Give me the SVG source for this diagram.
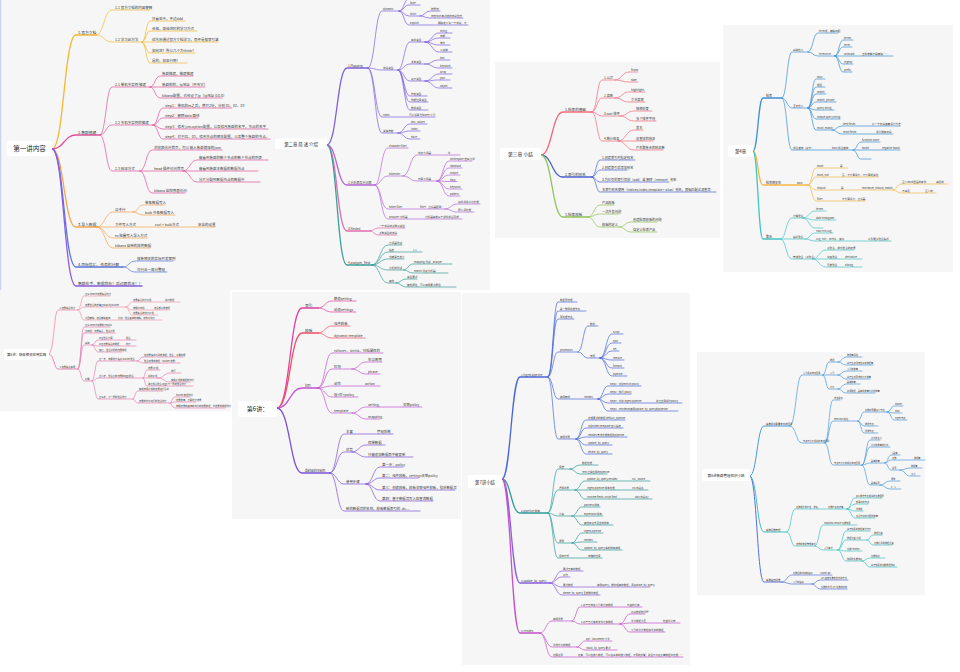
<svg xmlns="http://www.w3.org/2000/svg" width="960" height="672" viewBox="0 0 960 672">
<style>
text{font-family:"Noto Sans CJK SC","Noto Sans",sans-serif;fill:#383838}
.k{fill:none;stroke-linecap:round;stroke-linejoin:round;stroke-width:.7}
.k .m{stroke-width:1.3}
.a{font-size:3.5px}.a2{font-size:3.8px}
.b{font-size:2.3px}
.c3{font-size:2.6px}.c3l{font-size:3px}
.d{font-size:3.2px}.dl{font-size:3.6px}
.e{font-size:2.6px}.el{font-size:3px}
.f{font-size:3.4px}.fl{font-size:3.8px}
.g{font-size:2.5px}.gl{font-size:2.8px}
.h{font-size:2.2px}.hl{font-size:2.4px}
.root{fill:#fff}
.rt{text-anchor:middle;fill:#222}
.bg{fill:#f6f6f6}
</style>
<rect width="960" height="672" fill="#fff"/>
<g id="backgrounds">
<rect class="bg" x="0" y="0" width="490" height="290"/>
<rect x="0" y="0" width="1.2" height="290" fill="#c9d3ea"/>
<rect class="bg" x="0" y="290" width="230" height="121"/>
<rect class="bg" x="232" y="292" width="229" height="227"/>
<rect class="bg" x="495" y="62" width="225" height="176"/>
<rect class="bg" x="723" y="25" width="230" height="247"/>
<rect class="bg" x="462" y="293" width="228" height="372"/>
<rect class="bg" x="697" y="352" width="228" height="243"/>
</g>

<g id="connectors">
<!-- Panel 1 -->
<g class="k" stroke="#f5b731">
<path class="m" d="M52 149 C64 149 64 35 76 35 H96"/>
<path d="M96 35 C104 35 104 10 112 10 H150"/>
<path d="M96 35 C104 35 104 42 112 42 H142"/>
<path d="M142 42 C146 42 146 21 150 21 H185"/>
<path d="M142 42 C146 42 146 31 150 31 H197"/>
<path d="M142 42 H218"/>
<path d="M142 42 C146 42 146 53 150 53 H195"/>
<path d="M142 42 C146 42 146 63 150 63 H187"/>
</g>
<g class="k" stroke="#e2509c">
<path class="m" d="M52 149 C64 149 64 135 76 135 H100"/>
<path d="M100 135 C106 135 106 87 112 87 H150"/>
<path d="M150 87 C155 87 155 76 160 76 H193"/>
<path d="M150 87 H205"/>
<path d="M150 87 C155 87 155 98 160 98 H222"/>
<path d="M100 135 C106 135 106 125 112 125 H153"/>
<path d="M153 125 C158 125 158 108 163 108 H232"/>
<path d="M153 125 C158 125 158 118 163 118 H198"/>
<path d="M153 125 C158 125 158 129 163 129 H268"/>
<path d="M153 125 C158 125 158 139 163 139 H270"/>
<path d="M100 135 C106 135 106 171 112 171 H140"/>
<path d="M140 171 C146 171 146 150 152 150 H222"/>
<path d="M140 171 H183"/>
<path d="M183 171 C190 171 190 160 197 160 H268"/>
<path d="M183 171 H258"/>
<path d="M183 171 C190 171 190 182 197 182 H260"/>
<path d="M140 171 C146 171 146 193 152 193 H185"/>
</g>
<g class="k" stroke="#f7a24b">
<path class="m" d="M52 149 C64 149 64 227 76 227 H97"/>
<path d="M97 227 C105 227 105 212 113 212 H133"/>
<path d="M133 212 C138 212 138 205 143 205 H165"/>
<path d="M133 212 C138 212 138 215 143 215 H175"/>
<path d="M97 227 H215"/>
<path d="M97 227 C105 227 105 238 113 238 H147"/>
<path d="M97 227 C105 227 105 248 113 248 H150"/>
</g>
<g class="k" stroke="#5876dc">
<path class="m" d="M52 149 C64 149 64 267 76 267 H123"/>
<path d="M123 267 C129 267 129 261 135 261 H173"/>
<path d="M123 267 C129 267 129 272 135 272 H167"/>
</g>
<g class="k" stroke="#8b5ce4">
<path class="m" d="M52 149 C64 149 64 286 76 286 H142"/>
</g>

<!-- Panel 2 -->
<g class="k" stroke="#f29aae" stroke-width=".5">
<path class="m" style="stroke-width:.9" d="M49 354 C54 354 54 310 58 310 H78"/>
<path d="M78 310 C81 310 81 296 84 296 H110"/>
<path d="M78 310 C81 310 81 307 84 307 H126"/>
<path d="M126 307 C129 307 129 302 132 302 H180"/>
<path d="M126 307 C129 307 129 310 132 310 H168"/>
<path d="M126 307 C129 307 129 315 132 315 H158"/>
<path d="M78 310 C81 310 81 320 84 320 H162"/>
</g>
<g class="k" stroke="#e57fb2">
<path class="m" style="stroke-width:.9" d="M49 354 C54 354 54 369 58 369 H78"/>
<path d="M78 369 C81 369 81 327 84 327 H110"/>
<path d="M78 369 C81 369 81 333 84 333 H115"/>
<path d="M78 369 C81 369 81 345 84 345 H92"/>
<path d="M92 345 C95 345 95 340 98 340 H136"/>
<path d="M92 345 C95 345 95 346 98 346 H136"/>
<path d="M92 345 C95 345 95 352 98 352 H122"/>
<path d="M78 369 C81 369 81 381 84 381 H92"/>
<path d="M92 381 C95 381 95 361 98 361 H137"/>
<path d="M137 361 C140 361 140 357 143 357 H183"/>
<path d="M137 361 C140 361 140 363 143 363 H180"/>
<path d="M92 381 C95 381 95 378 98 378 H143"/>
<path d="M143 378 C145 378 145 370 147 370 H160"/>
<path d="M143 378 H158"/>
<path d="M158 378 C164 378 164 373 170 373 H181"/>
<path d="M158 378 C164 378 164 382 170 382 H190"/>
<path d="M143 378 C145 378 145 386 147 386 H193"/>
<path d="M92 381 C95 381 95 399 98 399 H133"/>
<path d="M133 399 C135 399 135 391 138 391 H163"/>
<path d="M133 399 C135 399 135 403 138 403 H170"/>
<path d="M170 403 C172 403 172 397 175 397 H190"/>
<path d="M170 403 C172 403 172 402 175 402 H196"/>
<path d="M170 403 C172 403 172 408 175 408 H225"/>
</g>

<!-- Panel 3 -->
<g class="k" stroke="#7d5fe0">
<path class="m" d="M327 145 C337 145 337 68 347 68 H368"/>
<path d="M368 68 C375 68 375 11 382 11 H399"/>
<path d="M399 11 C404 11 404 -1 409 -1 H418"/>
<path d="M399 11 C404 11 404 5 409 5 H420"/>
<path d="M399 11 C404 11 404 16 409 16 H420"/>
<path d="M420 16 C425 16 425 11 430 11 H440"/>
<path d="M420 16 C425 16 425 18 430 18 H463"/>
<path d="M399 11 C404 11 404 25 409 25 H468"/>
<path d="M368 68 C375 68 375 70 382 70 H398"/>
<path d="M398 70 C404 70 404 42 410 42 H425"/>
<path d="M425 42 C432 42 432 33 439 33 H452"/>
<path d="M425 42 C432 42 432 38 439 38 H450"/>
<path d="M425 42 C432 42 432 45 439 45 H450"/>
<path d="M425 42 C432 42 432 52 439 52 H452"/>
<path d="M398 70 C404 70 404 64 410 64 H425"/>
<path d="M425 64 C432 64 432 60 439 60 H450"/>
<path d="M425 64 C432 64 432 68 439 68 H452"/>
<path d="M398 70 C404 70 404 81 410 81 H425"/>
<path d="M425 81 C432 81 432 74 439 74 H452"/>
<path d="M425 81 C432 81 432 80 439 80 H450"/>
<path d="M425 81 C432 81 432 88 439 88 H452"/>
<path d="M398 70 C404 70 404 96 410 96 H427"/>
<path d="M398 70 C404 70 404 102 410 102 H428"/>
<path d="M398 70 C404 70 404 110 410 110 H428"/>
<path d="M368 68 C375 68 375 117 382 117 H435"/>
<path d="M368 68 C375 68 375 133 382 133 H398"/>
<path d="M398 133 C404 133 404 124 410 124 H427"/>
<path d="M398 133 C404 133 404 131 410 131 H420"/>
<path d="M398 133 C404 133 404 139 410 139 H420"/>
</g>
<g class="k" stroke="#b865d8">
<path class="m" d="M327 145 C337 145 337 185 347 185 H375"/>
<path d="M375 185 C381 185 381 148 388 148 H408"/>
<path d="M375 185 C381 185 381 176 388 176 H403"/>
<path d="M403 176 C410 176 410 155 417 155 H460"/>
<path d="M403 176 C410 176 410 181 417 181 H437"/>
<path d="M437 181 C443 181 443 161 449 161 H472"/>
<path d="M437 181 C443 181 443 168 449 168 H462"/>
<path d="M437 181 C443 181 443 175 449 175 H460"/>
<path d="M437 181 C443 181 443 181.5 449 181.5 H457"/>
<path d="M437 181 C443 181 443 189 449 189 H462"/>
<path d="M437 181 C443 181 443 196 449 196 H460"/>
<path d="M375 185 C381 185 381 209 388 209 H445"/>
<path d="M445 209 C451 209 451 204 457 204 H480"/>
<path d="M445 209 C451 209 451 212 457 212 H474"/>
<path d="M375 185 C381 185 381 219 388 219 H462"/>
</g>
<g class="k" stroke="#e26bae">
<path class="m" d="M327 145 C337 145 337 231 347 231 H370"/>
<path d="M370 231 C374 231 374 228 378 228 H405"/>
<path d="M370 231 C374 231 374 235 378 235 H397"/>
</g>
<g class="k" stroke="#3a9e9a">
<path class="m" d="M327 145 C337 145 337 265 347 265 H372"/>
<path d="M372 265 C380 265 380 245 388 245 H402"/>
<path d="M372 265 C380 265 380 252 388 252 H422"/>
<path d="M372 265 C380 265 380 259 388 259 H404"/>
<path d="M372 265 C380 265 380 270 388 270 H404"/>
<path d="M404 270 C408 270 408 264 413 264 H452"/>
<path d="M404 270 C408 270 408 273 413 273 H448"/>
<path d="M372 265 C380 265 380 283 388 283 H396"/>
<path d="M396 283 C401 283 401 279 406 279 H417"/>
<path d="M396 283 C401 283 401 287 406 287 H456"/>
</g>

<!-- Panel 4 -->
<g class="k" stroke="#f4697b">
<path class="m" d="M541 155 C552 155 552 112 563 112 H592"/>
<path d="M592 112 C597 112 597 80 602 80 H615"/>
<path d="M615 80 C622 80 622 72 629 72 H638"/>
<path d="M615 80 C622 80 622 82 629 82 H638"/>
<path d="M592 112 C597 112 597 98 602 98 H615"/>
<path d="M615 98 C622 98 622 92 629 92 H645"/>
<path d="M615 98 C622 98 622 102 629 102 H645"/>
<path d="M592 112 C597 112 597 116 602 116 H620"/>
<path d="M620 116 C627 116 627 111 634 111 H652"/>
<path d="M620 116 C627 116 627 121 634 121 H656"/>
<path d="M592 112 C597 112 597 141 602 141 H618"/>
<path d="M618 141 C626 141 626 130 634 130 H643"/>
<path d="M618 141 H653"/>
<path d="M618 141 C626 141 626 150 634 150 H663"/>
</g>
<g class="k" stroke="#4b62d2">
<path class="m" d="M541 155 C552 155 552 177 563 177 H592"/>
<path d="M592 177 C596 177 596 160 600 160 H635"/>
<path d="M592 177 C596 177 596 170 600 170 H627"/>
<path d="M592 177 C596 177 596 182 600 182 H669"/>
<path d="M592 177 C596 177 596 192 600 192 H716"/>
</g>
<g class="k" stroke="#8dc454">
<path class="m" d="M541 155 C552 155 552 217 563 217 H588"/>
<path d="M588 217 C594 217 594 205 600 205 H614"/>
<path d="M588 217 C594 217 594 214 600 214 H619"/>
<path d="M588 217 C594 217 594 227 600 227 H619"/>
<path d="M619 227 C625 227 625 222 631 222 H657"/>
<path d="M619 227 C625 227 625 232 631 232 H657"/>
</g>

<!-- Panel 5 -->
<g class="k" stroke="#3b8fd4">
<path class="m" d="M753 151 C758 151 758 98 763 98 H782"/>
<path d="M782 98 C787 98 787 52 792 52 H808"/>
<path d="M808 52 C813 52 813 33 818 33 H838"/>
<path d="M808 52 C813 52 813 56 818 56 H835"/>
<path d="M835 56 C839 56 839 40 843 40 H853"/>
<path d="M835 56 C839 56 839 47 843 47 H852"/>
<path d="M835 56 H893"/>
<path d="M835 56 C839 56 839 64 843 64 H853"/>
<path d="M835 56 C839 56 839 72 843 72 H852"/>
<path d="M782 98 C787 98 787 108 792 108 H808"/>
<path d="M808 108 C812 108 812 79 816 79 H825"/>
<path d="M808 108 C812 108 812 87 816 87 H825"/>
<path d="M808 108 C812 108 812 94 816 94 H826"/>
<path d="M808 108 C812 108 812 102 816 102 H836"/>
<path d="M808 108 C812 108 812 110 816 110 H834"/>
<path d="M808 108 C812 108 812 119 816 119 H840"/>
<path d="M808 108 C812 108 812 130 816 130 H832"/>
<path d="M832 130 C837 130 837 126 842 126 H900"/>
<path d="M832 130 C837 130 837 134 842 134 H893"/>
<path d="M782 98 C787 98 787 150 792 150 H853"/>
<path d="M853 150 C857 150 857 142 861 142 H880"/>
<path d="M853 150 H900"/>
<path d="M853 150 C857 150 857 159 861 159 H871"/>
</g>
<g class="k" stroke="#f4b844">
<path class="m" d="M753 151 C758 151 758 185 763 185 H808"/>
<path d="M808 185 C812 185 812 168 816 168 H848"/>
<path d="M808 185 C812 185 812 177 816 177 H878"/>
<path d="M808 185 C812 185 812 190 816 190 H893"/>
<path d="M893 190 C897 190 897 184 901 184 H948"/>
<path d="M893 190 C897 190 897 193 901 193 H936"/>
<path d="M808 185 C812 185 812 201 816 201 H865"/>
</g>
<g class="k" stroke="#45c4c2">
<path class="m" d="M753 151 C758 151 758 239 763 239 H781"/>
<path d="M781 239 C786 239 786 218 792 218 H803"/>
<path d="M803 218 C809 218 809 211 815 211 H826"/>
<path d="M803 218 C809 218 809 220 815 220 H836"/>
<path d="M803 218 C809 218 809 228 815 228 H823"/>
<path d="M781 239 H805"/>
<path d="M805 239 C810 239 810 233 815 233 H833"/>
<path d="M805 239 C810 239 810 241 815 241 H891"/>
<path d="M781 239 C786 239 786 259 792 259 H813"/>
<path d="M813 259 C819 259 819 250 826 250 H854"/>
<path d="M813 259 H862"/>
<path d="M813 259 C819 259 819 267 826 267 H862"/>
</g>

<!-- Panel 6 -->
<g class="k" stroke="#e2419f">
<path class="m" d="M277 408 C290 408 290 308 302 308 H318"/>
<path d="M318 308 C325 308 325 301 332 301 H356"/>
<path d="M318 308 C325 308 325 312 332 312 H356"/>
</g>
<g class="k" stroke="#f04d62">
<path class="m" d="M277 408 C290 408 290 333 302 333 H318"/>
<path d="M318 333 C325 333 325 326 332 326 H350"/>
<path d="M318 333 C325 333 325 338 332 338 H365"/>
</g>
<g class="k" stroke="#c452d6">
<path class="m" d="M277 408 C290 408 290 388 302 388 H318"/>
<path d="M318 388 C325 388 325 353 332 353 H383"/>
<path d="M318 388 C325 388 325 369 332 369 H352"/>
<path d="M352 369 C359 369 359 362 366 362 H382"/>
<path d="M352 369 C359 369 359 374 366 374 H380"/>
<path d="M318 388 C325 388 325 386 332 386 H380"/>
<path d="M318 388 C325 388 325 397 332 397 H358"/>
<path d="M318 388 C325 388 325 413 332 413 H352"/>
<path d="M352 413 C359 413 359 407 366 407 H422"/>
<path d="M352 413 C359 413 359 419 366 419 H380"/>
</g>
<g class="k" stroke="#7b52d8">
<path class="m" d="M277 408 C290 408 290 473 302 473 H330"/>
<path d="M330 473 C337 473 337 434 344 434 H393"/>
<path d="M330 473 C337 473 337 452 344 452 H352"/>
<path d="M352 452 C359 452 359 445 366 445 H385"/>
<path d="M352 452 C359 452 359 457 366 457 H413"/>
<path d="M330 473 C337 473 337 484 344 484 H366"/>
<path d="M366 484 C373 484 373 467 380 467 H403"/>
<path d="M366 484 C373 484 373 478 380 478 H418"/>
<path d="M366 484 C373 484 373 490 380 490 H455"/>
<path d="M366 484 C373 484 373 501 380 501 H433"/>
<path d="M330 473 C337 473 337 511 344 511 H420"/>
</g>

<!-- Panel 7 -->
<g class="k" stroke="#4a67d8">
<path class="m" d="M502 479 C511 479 511 377 520 377 H548"/>
<path d="M548 377 C553 377 553 302 558 302 H577"/>
<path d="M548 377 C553 377 553 311 558 311 H586"/>
<path d="M548 377 C553 377 553 319 558 319 H574"/>
<path d="M548 377 C553 377 553 352 558 352 H578"/>
<path d="M578 352 C583 352 583 326 588 326 H598"/>
<path d="M578 352 C583 352 583 358 588 358 H600"/>
<path d="M600 358 C606 358 606 334 612 334 H623"/>
<path d="M600 358 C606 358 606 343 612 343 H621"/>
<path d="M600 358 C606 358 606 351 612 351 H619"/>
<path d="M600 358 C606 358 606 360 612 360 H624"/>
<path d="M600 358 C606 358 606 368 612 368 H624"/>
<path d="M600 358 C606 358 606 376 612 376 H627"/>
<path d="M548 377 C553 377 553 399 558 399 H598"/>
<path d="M598 399 C603 399 603 386 608 386 H641"/>
<path d="M598 399 C603 399 603 394 608 394 H631"/>
<path d="M598 399 C603 399 603 403 608 403 H682"/>
<path d="M598 399 C603 399 603 411 608 411 H678"/>
<path d="M548 377 C553 377 553 439 558 439 H576"/>
<path d="M576 439 C581 439 581 420 586 420 H625"/>
<path d="M576 439 C581 439 581 428 586 428 H623"/>
<path d="M576 439 C581 439 581 437 586 437 H627"/>
<path d="M576 439 C581 439 581 445 586 445 H612"/>
<path d="M576 439 C581 439 581 454 586 454 H612"/>
</g>
<g class="k" stroke="#2e9c9c">
<path class="m" d="M502 479 C511 479 511 513 520 513 H548"/>
<path d="M548 513 C553 513 553 469 558 469 H570"/>
<path d="M570 469 C575 469 575 465 580 465 H598"/>
<path d="M570 469 C575 469 575 474 580 474 H607"/>
<path d="M548 513 C553 513 553 490 558 490 H575"/>
<path d="M575 490 C580 490 580 481 585 481 H650"/>
<path d="M575 490 H648"/>
<path d="M575 490 C580 490 580 499 585 499 H652"/>
<path d="M548 513 C553 513 553 516 558 516 H572"/>
<path d="M572 516 C577 516 577 507 582 507 H600"/>
<path d="M572 516 H603"/>
<path d="M572 516 C577 516 577 525 582 525 H613"/>
<path d="M548 513 C553 513 553 543 558 543 H572"/>
<path d="M572 543 C577 543 577 533 582 533 H603"/>
<path d="M572 543 C577 543 577 542 582 542 H597"/>
<path d="M572 543 C577 543 577 550 582 550 H622"/>
<path d="M548 513 C553 513 553 558 558 558 H602"/>
</g>
<g class="k" stroke="#8a5ee2">
<path class="m" d="M502 479 C511 479 511 583 520 583 H550"/>
<path d="M550 583 C556 583 556 571 562 571 H583"/>
<path d="M550 583 C556 583 556 577 562 577 H570"/>
<path d="M550 583 C556 583 556 587 562 587 H650"/>
<path d="M550 583 C556 583 556 595 562 595 H600"/>
</g>
<g class="k" stroke="#c452cc">
<path class="m" d="M502 479 C511 479 511 633 520 633 H540"/>
<path d="M540 633 C546 633 546 621 552 621 H572"/>
<path d="M572 621 C576 621 576 607 580 607 H642"/>
<path d="M572 621 C576 621 576 624 580 624 H620"/>
<path d="M620 624 C625 624 625 614 630 614 H645"/>
<path d="M620 624 C625 624 625 623 630 623 H680"/>
<path d="M620 624 C625 624 625 632 630 632 H665"/>
<path d="M540 633 C546 633 546 647 552 647 H577"/>
<path d="M577 647 C581 647 581 641 585 641 H612"/>
<path d="M577 647 C581 647 581 650 585 650 H617"/>
<path d="M540 633 C546 633 546 657 552 657 H683"/>
</g>

<!-- Panel 8 -->
<g class="k" stroke="#4a9ad8" stroke-width=".55">
<path class="m" style="stroke-width:1" d="M750 476 C757 476 757 426 764 426 H790"/>
<path d="M790 426 C796 426 796 375 802 375 H823"/>
<path d="M823 375 C826 375 826 362 829 362 H838"/>
<path d="M838 362 C842 362 842 357 846 357 H862"/>
<path d="M838 362 C842 362 842 365 846 365 H873"/>
<path d="M823 375 H838"/>
<path d="M838 375 C842 375 842 371 846 371 H862"/>
<path d="M838 375 C842 375 842 379 846 379 H870"/>
<path d="M823 375 C826 375 826 389 829 389 H838"/>
<path d="M838 389 C842 389 842 384 846 384 H860"/>
<path d="M838 389 C842 389 842 393 846 393 H875"/>
<path d="M790 426 C796 426 796 443 802 443 H825"/>
<path d="M825 443 C829 443 829 400 833 400 H840"/>
<path d="M825 443 C829 443 829 421 833 421 H858"/>
<path d="M858 421 C861 421 861 412 864 412 H887"/>
<path d="M887 412 C891 412 891 406 894 406 H903"/>
<path d="M887 412 C891 412 891 413 894 413 H902"/>
<path d="M887 412 C891 412 891 420 894 420 H907"/>
<path d="M858 421 C861 421 861 426 864 426 H878"/>
<path d="M858 421 C861 421 861 433 864 433 H878"/>
<path d="M825 443 C829 443 829 465 833 465 H862"/>
<path d="M862 465 C866 465 866 440 870 440 H880"/>
<path d="M862 465 C866 465 866 447 870 447 H890"/>
<path d="M862 465 C866 465 866 463 870 463 H885"/>
<path d="M885 463 C888 463 888 455 891 455 H900"/>
<path d="M885 463 C888 463 888 460 891 460 H925"/>
<path d="M885 463 C888 463 888 470 891 470 H900"/>
<path d="M900 470 C905 470 905 468 910 468 H922"/>
<path d="M900 470 C905 470 905 476 910 476 H920"/>
<path d="M862 465 C866 465 866 485 870 485 H880"/>
<path d="M880 485 C885 485 885 481 890 481 H900"/>
<path d="M880 485 C885 485 885 489 890 489 H901"/>
</g>
<g class="k" stroke="#3fc3c6" stroke-width=".55">
<path class="m" style="stroke-width:1" d="M750 476 C757 476 757 532 764 532 H787"/>
<path d="M787 532 C791 532 791 509 795 509 H847"/>
<path d="M847 509 C851 509 851 498 855 498 H882"/>
<path d="M847 509 C851 509 851 504 855 504 H868"/>
<path d="M847 509 C851 509 851 511 855 511 H863"/>
<path d="M847 509 C851 509 851 518 855 518 H875"/>
<path d="M787 532 C791 532 791 546 795 546 H815"/>
<path d="M815 546 C819 546 819 525 823 525 H857"/>
<path d="M815 546 C819 546 819 550 823 550 H838"/>
<path d="M838 550 C842 550 842 531 846 531 H870"/>
<path d="M838 550 C842 550 842 540 846 540 H867"/>
<path d="M867 540 C870 540 870 535 873 535 H882"/>
<path d="M867 540 C870 540 870 545 873 545 H892"/>
<path d="M838 550 C842 550 842 551 846 551 H862"/>
<path d="M838 550 C842 550 842 561 846 561 H862"/>
<path d="M862 561 C866 561 866 558 870 558 H885"/>
<path d="M862 561 C866 561 866 567 870 567 H897"/>
</g>
<g class="k" stroke="#5b70d8" stroke-width=".55">
<path class="m" style="stroke-width:1" d="M750 476 C757 476 757 582 764 582 H782"/>
<path d="M782 582 C787 582 787 575 792 575 H832"/>
<path d="M782 582 C787 582 787 584 792 584 H812"/>
<path d="M812 584 C816 584 816 580 820 580 H848"/>
<path d="M812 584 C816 584 816 589 820 589 H847"/>
</g>
</g>

<!-- ============ NODES ============ -->
<g id="panel1">
<g id="p1-root"><rect class="root" x="7" y="141" width="45" height="15" rx="2"/><text class="rt" x="29.5" y="151.3" font-size="6.5">第一讲内容</text></g>
<g id="p1-b1" class="a">
<text class="a2" x="78" y="33.6">1.官方文档</text>
<text x="115" y="8.6">1.1 官方文档的内容梗概</text>
<text x="115" y="40.6">1.2 学习此方法</text>
<text x="152" y="19.6">只看英中，不过ddd</text>
<text x="152" y="29.6">合格，高级进阶的学习方式</text>
<text x="152" y="40.6">优先将通过官方文档学习，而不是搜索引擎</text>
<text x="152" y="51.6">如何进？所以几个为think？</text>
<text x="152" y="61.6">是的，如果行啊！</text>
</g>
<g id="p1-b2" class="a">
<text class="a2" x="78" y="133.6">2.集群搭建</text>
<text x="115" y="85.6">2.1 单机多实例 搭建</text>
<text x="162" y="74.6">集群搭建，搭建搭建</text>
<text x="162" y="85.6">集群的的，ip地址（不改它）</text>
<text x="162" y="96.6">kibana配置，已经设了ip（ip地址 0.0.0）</text>
<text x="115" y="123.6">2.2 多机多实例的搭建</text>
<text x="165" y="106.6">step1：单机的es之后，拷贝2份，分别 01、02、03</text>
<text x="165" y="116.6">step2：删除data 路径</text>
<text x="165" y="127.6">step3：修改 jvm.option配置，以及修改集群的名字，节点的名字</text>
<text x="165" y="137.6">step4：对于02、03，修改节点的相关配置，以及整个集群的节点。</text>
<text x="115" y="169.6">2.3 验证方式</text>
<text x="154" y="148.6">浏览器访问首页，可以 输入集群健康的json</text>
<text x="154" y="169.6">head 插件访问首页</text>
<text x="199" y="158.6">能看到集群的数个节点的数个节点的列表</text>
<text x="199" y="169.6">能看到集群主数据的数据节点</text>
<text x="199" y="180.6">分片分配到数据节点的数据中</text>
<text x="154" y="191.6">kibana 监控界面访问</text>
</g>
<g id="p1-b3" class="a">
<text class="a2" x="78" y="225.6">3.导入数据</text>
<text x="115" y="210.6">命令行</text>
<text x="145" y="203.6">单条数据写入</text>
<text x="145" y="213.6">bulk 多条数据写入</text>
<text x="115" y="225.6">文件写入方式</text>
<text x="155" y="225.6">curl + bulk方式</text>
<text x="198" y="225.6">安全的设置</text>
<text x="115" y="236.6">es 批量写入导入方式</text>
<text x="115" y="246.6">kibana 自带的样例数据</text>
</g>
<g id="p1-b4" class="a">
<text class="a2" x="78" y="265.6">4.目标信汇、任务的分解</text>
<text x="137" y="259.6">搜集相关的实际开发案例</text>
<text x="137" y="270.6">对行业一部分整理</text>
</g>
<g id="p1-b5" class="a"><text class="a2" x="78" y="284.6">集群在手，数据我有！后边跟我走！！</text></g>
</g>

<g id="panel2" class="b">
<g id="p2-root"><rect class="root" x="4" y="349" width="45" height="11" rx="1.5"/><text class="rt" x="26.5" y="355.6" font-size="3.4">第5讲：结果相关应用实践</text></g>
<text x="59.5" y="309.2">1.结果集合统计</text>
<text x="85" y="295.2">第三 search结果集合统计</text>
<text x="85" y="306.2">结果聚合的步骤 group by bucket</text>
<text x="133" y="301.2">结果集合统计分组</text><text x="165" y="301.2">总计数据</text>
<text x="133" y="309.2">按照xx字段</text><text x="154" y="309.2">结合部分的数据</text>
<text x="133" y="314.2">结果集合的统计分组</text>
<text x="85" y="319.2">范围精确，结合精确查询</text><text x="118" y="319.2">比如：聚合查询的精确，结构化统计</text>
<text x="59.5" y="368.2">2.结果集合使用</text>
<text x="85" y="326.2">第三 search结果的 results</text>
<text x="85" y="332.2">第四组：结果集合，聚合分析</text>
<text x="85" y="344.2">基础</text>
<text x="99" y="339.2">avg 聚合计算</text><text x="126" y="339.2">聚合</text>
<text x="99" y="345.2">avg 结果集合的数据</text><text x="126" y="345.2">统计</text>
<text x="99" y="351.2">最后，聚合分析的结果数据</text>
<text x="85" y="380.2">分桶</text>
<text x="99" y="360.2">第一步，按照统计指标 bucket 聚合</text>
<text x="144" y="356.2">在结果集中得到的数据，聚合，分桶处理</text>
<text x="144" y="362.2">聚合结果的数据（bucket 结果）</text>
<text x="99" y="377.2">第二步，聚合后的结果的aggs聚合</text>
<text x="148" y="369.2">结果(分组)</text>
<text x="148" y="377.2">总结分组</text>
<text x="171" y="372.2">排行</text>
<text x="171" y="381.2">实现分组的数据的统计</text>
<text x="148" y="385.2">通过组合聚合 aggs 下一层的聚合统计</text>
<text x="99" y="398.2">第三步，下一层的聚合统计</text>
<text x="139" y="390.2">实现按照分组的结果进行合并</text>
<text x="139" y="402.2">结果的统计进行的聚合统计</text>
<text x="176" y="396.2">bucket 数据统计</text>
<text x="176" y="401.2">结果数量，计算统计结果</text>
<text x="176" y="407.2">按照结果的查询的统计的结果数据，与结果的数据统计</text>
</g>

<g id="panel3" class="c3">
<g id="p3-root"><rect class="root" x="275" y="138.5" width="52" height="10.5" rx="1.5"/><text class="rt" x="301" y="145.6" font-size="4.4">第二章 简 述 介绍</text></g>
<text class="c3l" x="348" y="66.8">1.Mapping</text>
<text x="383" y="10.2">dynamic</text>
<text x="410" y="4.2">false</text>
<text x="410" y="15.2">strict</text>
<text x="431" y="10.2">抛异常</text>
<text x="431" y="17.2">日志中会有新增的字段信息</text>
<text x="410" y="24.2">Explicit</text><text x="438" y="24.2">明确定义每一个字段，不…</text>
<text x="383" y="69.2">字段类型</text>
<text x="411" y="41.2">简单类型</text>
<text x="440" y="32.2">string</text><text x="440" y="37.2">日期</text><text x="440" y="44.2">布尔</text><text x="440" y="51.2">二进制</text>
<text x="411" y="63.2">文本类型</text>
<text x="440" y="59.2">text</text><text x="440" y="67.2">keyword</text>
<text x="411" y="80.2">复杂类型</text>
<text x="440" y="73.2">array</text><text x="440" y="79.2">json</text><text x="440" y="87.2">object</text>
<text x="411" y="95.2">特定类型</text>
<text x="411" y="101.2">地理位置类型</text>
<text x="411" y="109.2">数组类型</text>
<text x="383" y="116.2">index</text><text x="409" y="116.2">可以设置为false不索引</text>
<text x="383" y="132.2">关键参数</text>
<text x="411" y="123.2">doc_values</text><text x="411" y="130.2">index</text><text x="411" y="138.2">store</text>
<text class="c3l" x="348" y="183.8">2.分析器及分词器</text>
<text x="389" y="147.2">character filter</text>
<text x="389" y="175.2">tokenizer</text>
<text x="418" y="154.2">中文分词器</text><text x="448" y="154.2">ik</text>
<text x="418" y="180.2">内置分词器</text>
<text x="450" y="160.2">whitespace 空白分词</text>
<text x="450" y="167.2">standard</text><text x="450" y="174.2">simple</text><text x="450" y="180.7">stop</text><text x="450" y="188.2">keyword</text><text x="450" y="195.2">pattern</text>
<text x="389" y="208.2">token filter</text><text x="420" y="208.2">filter：过滤器配置：</text>
<text x="458" y="203.2">将单词规范化处理</text>
<text x="458" y="211.2">同义词处理</text>
<text x="389" y="218.2">analyzer 分析器</text><text x="425" y="218.2">分析器由前三个组件组合而成</text>
<text class="c3l" x="348" y="229.8">3.Nested</text>
<text x="379" y="227.2">一个字段的多种子类型</text>
<text x="379" y="234.2">多种类型的字段</text>
<text class="c3l" x="348" y="263.8">4.analyzer_field</text>
<text x="389" y="244.2">分词器测试</text>
<text x="389" y="251.2">指定</text><text x="413" y="251.2">1.1</text>
<text x="389" y="258.2">也就是自定义</text>
<text x="389" y="269.2">分析的测试</text>
<text x="414" y="263.2">mapping 测试 _analyze</text>
<text x="414" y="272.2">search 测试分析器</text>
<text x="389" y="282.2">其他</text>
<text x="407" y="278.2">类型更新</text>
<text x="407" y="286.2">其他属性，可以使用更新属性</text>
</g>

<g id="panel4" class="d">
<g id="p4-root"><rect class="root" x="500" y="148" width="41" height="12" rx="1.5"/><text class="rt" x="520.5" y="156" font-size="4.8">第三章 小结</text></g>
<text class="dl" x="565" y="110.6">1.检索的基础</text>
<text x="604" y="78.6">1.公式</text><text x="631" y="70.6">from</text><text x="631" y="80.6">size</text>
<text x="604" y="96.6">2.高亮</text><text x="631" y="90.6">highlight</text><text x="631" y="100.6">文本高亮</text>
<text x="604" y="114.6">3.sort 排序</text><text x="636" y="109.6">按相关度</text><text x="636" y="119.6">多个排序字段</text>
<text x="604" y="139.6">4.统计结果</text><text x="636" y="128.6">基本</text><text x="636" y="139.6">总查找的结果</text><text x="636" y="148.6">产生聚集合的结果数</text>
<text class="dl" x="565" y="175.6">2.索引的别名</text>
<text x="602" y="158.6">1.创建索引时指定别名</text>
<text x="602" y="168.6">2.创建索引后添加别名</text>
<text x="602" y="180.6">3.为已有的索引添加（add）或 删除（remove）别名</text>
<text x="602" y="190.6">多索引别名使用（indices/index/template + alias）别名，根据匹配过滤查询</text>
<text class="dl" x="565" y="215.6">3.检索模板</text>
<text x="602" y="203.6">产品模板</text>
<text x="602" y="212.6">一次并发问题</text>
<text x="602" y="225.6">模板的定义</text>
<text x="633" y="220.6">创建检索模板的问题</text>
<text x="633" y="230.6">自定义检索产品</text>
</g>

<g id="panel5" class="e">
<g id="p5-root"><rect class="root" x="728" y="145" width="25" height="12" rx="1.5"/><text class="rt" x="740.5" y="153" font-size="4.4">第4章</text></g>
<text class="el" x="766" y="96.8">检索</text>
<text x="793" y="51.2">基础检索</text>
<text x="819" y="32.2">term词，精确匹配</text>
<text x="819" y="55.2">term level</text>
<text x="844" y="39.2">terms</text><text x="844" y="46.2">term</text><text x="844" y="55.2">wildcard</text><text x="862" y="55.2">正则模糊不是精确！！</text><text x="844" y="63.2">regexp</text><text x="844" y="71.2">prefix</text>
<text x="793" y="107.2">全文检索</text>
<text x="817" y="78.2">bool</text><text x="817" y="86.2">短语</text><text x="817" y="93.2">match</text><text x="817" y="101.2">match_phrase</text><text x="817" y="109.2">query string</text><text x="817" y="118.2">simple query string</text><text x="817" y="129.2">multi_match</text>
<text x="843" y="125.2">best fields</text><text x="872" y="125.2">以一个字段最高评分为准</text>
<text x="843" y="133.2">most fields</text><text x="876" y="133.2">评分所有字段</text>
<text x="793" y="149.2">组合查询（复杂）</text><text x="832" y="149.2">bool 组合查询</text>
<text x="862" y="141.2">function score</text><text x="862" y="149.2">boost</text><text x="882" y="149.2">negative boost</text><text x="862" y="158.2">……</text>
<text class="el" x="766" y="183.8">检索相关性</text><text x="797" y="184.2">bool</text>
<text x="817" y="167.2">must</text><text x="840" y="167.2">是</text>
<text x="817" y="176.2">must_not</text><text x="842" y="176.2">否，不计算评分，不计算相关性</text>
<text x="817" y="189.2">should</text><text x="841" y="189.2">是</text><text x="862" y="189.2">minimum_should_match</text>
<text x="902" y="183.2">至少must里面的条件</text><text x="936" y="183.2">满足的</text>
<text x="902" y="192.2">不满足</text><text x="925" y="192.2">至少的</text>
<text x="817" y="200.2">filter</text><text x="842" y="200.2">不计算评分，过滤器</text>
<text class="el" x="766" y="237.8">聚合</text>
<text x="793" y="217.2">分桶聚合</text><text x="816" y="210.2">terms</text><text x="816" y="219.2">date histogram</text><text x="816" y="227.2">……</text>
<text x="793" y="238.2">指标聚合</text><text x="816" y="232.2">Max/Min/Avg</text><text x="816" y="240.2">Avg, Min：平均值，最值</text><text x="868" y="240.2">以及更多聚合指标</text>
<text x="793" y="258.2">管道聚合（子聚合）</text><text x="827" y="249.2">子聚合，前序聚合的结果</text>
<text x="827" y="258.2">父级聚合</text><text x="845" y="258.2">derivative</text>
<text x="827" y="266.2">兄弟聚合</text><text x="845" y="266.2">sibling</text>
</g>

<g id="panel6" class="f">
<g id="p6-root"><rect class="root" x="238" y="401" width="39" height="16" rx="2"/><text class="rt" x="257.5" y="411.2" font-size="6">第6讲：</text></g>
<text class="fl" x="305" y="306.6">索引</text>
<text x="334" y="300">静态setting</text><text x="334" y="311">动态settings</text>
<text class="fl" x="305" y="331.6">模板</text>
<text x="334" y="325">组件模板</text><text x="334" y="337">dynamic template</text>
<text class="fl" x="305" y="386.6">ilm</text>
<text x="334" y="352">rollover、shrink、归档属性的</text>
<text x="334" y="368">阶段</text><text x="368" y="361">生命周期</text><text x="368" y="373">phase</text>
<text x="334" y="385">动作</text><text x="365" y="385">action</text>
<text x="334" y="396">理+阶+policy</text>
<text x="334" y="412">template</text><text x="368" y="406">setting</text><text x="403" y="406">关联policy</text><text x="368" y="418">mapping</text>
<text class="fl" x="305" y="471.6">datastream</text>
<text x="346" y="433">丰富</text><text x="377" y="433">管理系统</text>
<text x="346" y="451">优势</text><text x="368" y="444">简单数据</text><text x="368" y="456">只能追加数据而不能更新</text>
<text x="346" y="483">使用步骤</text>
<text x="382" y="466">第一步：policy</text>
<text x="382" y="477">第二：组件模板，settings关联policy</text>
<text x="382" y="489">第三：创建模板，模板关联组件模板，指定数据流</text>
<text x="382" y="500">第四：基于数据流写入和查询数据</text>
<text x="346" y="510">新的数据流的名称，模板数据索引的 .ds-...</text>
</g>

<g id="panel7" class="g">
<g id="p7-root"><rect class="root" x="468" y="475" width="34" height="13" rx="1.5"/><text class="rt" x="485" y="483.6" font-size="4.4">第7讲小结</text></g>
<text class="gl" x="521" y="375.8">1.Ingest pipeline</text>
<text x="560" y="301.2">数据预处理</text><text x="560" y="310.2">是一种预处理节点</text><text x="560" y="318.2">预处理节点</text>
<text x="560" y="351.2">processors</text><text x="590" y="325.2">数组</text><text x="590" y="357.2">常用</text>
<text x="613" y="333.2">script</text><text x="613" y="342.2">split</text><text x="613" y="350.2">set</text><text x="613" y="359.2">remove</text><text x="613" y="367.2">foreach</text><text x="613" y="375.2">pipeline ...</text>
<text x="560" y="398.2">使用案例</text><text x="584" y="398.2">reindex</text>
<text x="610" y="385.2">step1：创建enrich policy</text><text x="610" y="393.2">step2：执行 policy</text><text x="610" y="402.2">step3：创建 ingest pipeline</text><text x="656" y="402.2">建立应用程序policy</text>
<text x="610" y="410.2">step4：reindex时使用update_by_query的pipeline</text>
<text x="560" y="438.2">使用场景</text>
<text x="588" y="419.2">处理更新的数据 default_pipeline</text><text x="588" y="427.2">创建index template 默认指定</text><text x="588" y="436.2">reindex 管道处理数据的pipeline</text><text x="588" y="444.2">update_by_query</text><text x="588" y="453.2">delete_by_query</text>
<text class="gl" x="521" y="511.8">2.pipeline 脚本</text>
<text x="559" y="468.2">用途</text><text x="582" y="464.2">数据处理</text><text x="582" y="473.2">Test 过程应用的pipeline</text>
<text x="559" y="489.2">适用场景</text>
<text x="587" y="480.2">update_by_query/reindex</text><text x="632" y="480.2">ctx._source</text>
<text x="587" y="489.2">ingest pipeline 脚本处理</text><text x="632" y="489.2">ctx.字段名</text>
<text x="587" y="498.2">runtime fields_script field</text><text x="635" y="498.2">doc[字段名]</text>
<text x="559" y="515.2">分类</text><text x="584" y="506.2">painless 脚本</text><text x="584" y="515.2">expression 脚本</text><text x="584" y="524.2">其他表达式语言的脚本</text>
<text x="559" y="542.2">调用</text><text x="584" y="532.2">ingest pipeline</text><text x="584" y="541.2">reindex</text><text x="584" y="549.2">update_by_query 等的脚本使用</text>
<text x="559" y="557.2">保存方式</text><text x="588" y="557.2">存储的位置</text>
<text class="gl" x="521" y="581.8">3.update_by_query</text>
<text x="563" y="570.2">更新已有的数据</text><text x="563" y="576.2">修改</text><text x="563" y="586.2">更新数据</text><text x="597" y="586.2">使用query，删除现有的数据，再update_by_query</text>
<text x="563" y="594.2">delete_by_query 全部删除数据</text>
<text class="gl" x="521" y="631.8">4.reindex</text>
<text x="553" y="620.2">使用场景</text>
<text x="581" y="606.2">1.对于已存在索引的迁移数据</text><text x="627" y="606.2">升级的迁移</text>
<text x="581" y="623.2">2.对于已迁移的文件迁移数据</text>
<text x="631" y="613.2">修复数据的问题</text><text x="631" y="622.2">重分数据分区</text><text x="663" y="622.2">检查重分布</text><text x="631" y="631.2">索引的分片数据和重建的数据</text>
<text x="553" y="646.2">重排序分的数据</text><text x="586" y="640.2">api：document 下重</text><text x="586" y="649.2">$bulk_by_query 更新</text>
<text x="553" y="656.2">还需注意</text><text x="578" y="656.2">还有，可以在搜索数据，可以在基本的搜索数据，不同的步骤，并且不会在大量数据中处理！！</text>
</g>

<g id="panel8" class="h">
<g id="p8-root"><rect class="root" x="702" y="469" width="48" height="12" rx="1.5"/><text class="rt" x="726" y="476.6" font-size="3.5">第8讲集群管理知识小结</text></g>
<text class="hl" x="766" y="425.2">集群规划需要考虑的因素</text>
<text x="803" y="374.3">索引规划考虑因素</text>
<text x="830" y="361.3">数据</text><text x="847" y="356.3">数据量评估</text><text x="847" y="364.3">基于业务场景估算的数据量</text>
<text x="830" y="374.3">索引</text><text x="847" y="370.3">索引的数量</text><text x="847" y="378.3">基于业务需求的分片数量</text>
<text x="830" y="388.3">分片</text><text x="847" y="383.3">副本数量</text><text x="847" y="392.3">使用数据，副本的数量分片的数量</text>
<text x="803" y="442.3">节点与分片规划的考虑因素</text>
<text x="834" y="399.3">节点角色</text>
<text x="834" y="420.3">selection 角色</text>
<text x="865" y="411.3">集群中需要多少节点</text><text x="895" y="405.3">master</text><text x="895" y="412.3">data</text><text x="895" y="419.3">ingest节点</text>
<text x="865" y="425.3">数据节点</text><text x="865" y="432.3">协调节点</text>
<text x="834" y="464.3">节点与分片的规划考虑因素</text>
<text x="871" y="439.3">分片的大小</text><text x="871" y="446.3">分片的数量的计算</text><text x="871" y="462.3">副本数量</text>
<text x="892" y="454.3">1副本</text><text x="892" y="459.3">集群</text><text x="914" y="459.3">数据量</text><text x="892" y="469.3">设置</text>
<text x="911" y="467.3">数据量</text><text x="911" y="475.3">大小</text>
<text x="871" y="484.3">副本设置</text><text x="891" y="480.3">调整</text><text x="891" y="488.3">0，1，…</text>
<text class="hl" x="766" y="531.2">集群运维管理</text>
<text x="796" y="508.3">集群规模的扩容，收缩</text><text x="828" y="508.3">集群扩缩容步骤</text>
<text x="856" y="497.3">put 操作节点相关的集群配置</text><text x="856" y="503.3">部署新的节点</text><text x="856" y="510.3">新数据</text><text x="856" y="517.3">集合节点的分配的数量</text>
<text x="796" y="545.3">各种的数据管理备份</text>
<text x="824" y="524.3">snapshot/restore 集群快照</text>
<text x="824" y="549.3">索引备份</text>
<text x="847" y="530.3">基于快照的数据备份方案</text>
<text x="847" y="539.3">数据迁移 分组</text><text x="874" y="534.3">数据迁移</text><text x="874" y="544.3">集群之间的数据迁移</text>
<text x="847" y="550.3">集群 reindex</text>
<text x="847" y="560.3">快照的集群恢复</text><text x="871" y="557.3">集群规划</text><text x="871" y="566.3">基于快照的集群数据恢复</text>
<text class="hl" x="766" y="581.2">集群监控运维</text>
<text x="793" y="574.3">集群当前状态的指标</text><text x="820" y="574.3">cluster api</text>
<text x="793" y="583.3">索引的指标</text>
<text x="821" y="579.3">API 监控集群的信息的方法</text>
<text x="821" y="588.3">集群的状况 API 集群的状态</text>
</g>
</svg>
